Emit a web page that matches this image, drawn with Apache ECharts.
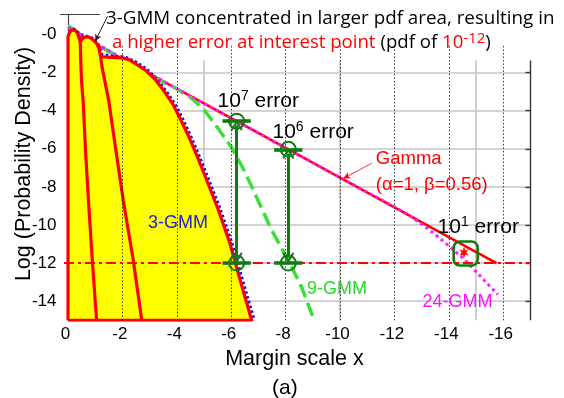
<!DOCTYPE html>
<html>
<head>
<meta charset="utf-8">
<script src="https://cdn.jsdelivr.net/npm/echarts@6/dist/echarts.min.js"></script>
<style>
  html, body { margin: 0; padding: 0; background: #ffffff; }
  #chart { width: 564px; height: 398px; }
</style>
</head>
<body>
<div id="chart"></div>
<script>
// ---- tick labels ----
const xTickValues = [0, -2, -4, -6, -8, -10, -12, -14, -16];
const yTickValues = [0, -2, -4, -6, -8, -10, -12, -14];
const coarseGridX = [-5, -10, -15];
const interestLevel = -12;

// ---- curves: [margin x, log10 pdf] ----
const gammaFit = [[0, 0.25], [-6.2, -4.55], [-8.1, -6.03], [-15.75, -12.0]];

const gmm24 = [[0, 0.35], [-3, -2.05], [-6, -4.4], [-9, -6.73], [-12, -9.05], [-12.5, -9.45],
  [-13, -9.95], [-13.5, -10.5], [-14, -11.1], [-14.6, -11.85], [-15.2, -12.75], [-15.8, -13.65]];

const gmm9 = [[0, 0.45], [-1, -0.45], [-2, -1.3], [-3, -2.1], [-3.5, -2.5], [-4, -2.85], [-4.5, -3.3],
  [-5, -3.95], [-5.5, -4.9], [-6, -5.9], [-6.5, -7.2], [-7, -8.75], [-7.5, -10.3], [-8.15, -12.0],
  [-8.6, -13.3], [-9.05, -15]];

const gmm3Model = [[0, 0.3], [-0.2, 0.3], [-0.4, 0.05], [-0.6, -0.05], [-0.9, -0.2], [-1.1, -0.5],
  [-1.25, -1.05], [-1.6, -1.12], [-2.1, -1.18], [-2.5, -1.45], [-2.9, -1.82], [-3.25, -2.32],
  [-3.62, -3.0], [-3.93, -3.65], [-4.2, -4.38], [-4.5, -5.3], [-4.83, -6.4], [-5.18, -7.65],
  [-5.58, -9.1], [-6.04, -11.0], [-6.52, -13.4], [-6.85, -15]];

const gmm3Envelope = [[0, -15], [0, -0.1], [-0.06, 0.12], [-0.14, 0.22], [-0.22, 0.24], [-0.3, 0.16],
  [-0.37, 0.0], [-0.42, -0.25], [-0.45, -0.38], [-0.52, -0.22], [-0.6, -0.14], [-0.69, -0.12],
  [-0.8, -0.16], [-0.93, -0.29], [-1.05, -0.46], [-1.13, -0.7], [-1.19, -1.1], [-1.3, -1.18],
  [-1.6, -1.2], [-2.0, -1.23], [-2.25, -1.33], [-2.46, -1.51], [-2.83, -1.86], [-3.2, -2.35],
  [-3.57, -3.05], [-3.87, -3.7], [-4.12, -4.4], [-4.42, -5.3], [-4.75, -6.4], [-5.1, -7.65],
  [-5.5, -9.1], [-5.96, -11.0], [-6.43, -13.4], [-6.75, -15], [0, -15]];

const gmm3Lobe1 = [[-0.45, -0.38], [-0.47, -1.5], [-0.5, -2.5], [-0.56, -3.6], [-0.64, -6],
  [-0.75, -8.7], [-0.88, -11.6], [-1.05, -15]];
const gmm3Lobe2 = [[-1.19, -1.1], [-1.25, -1.7], [-1.36, -2.5], [-1.5, -3.5], [-1.7, -5.5],
  [-2.03, -8.7], [-2.4, -11.85], [-2.71, -15]];

// ---- error comparison points ----
const errorX = [-6.2, -8.1];
const errorTop = [-4.55, -6.03];
const errorBottom = [-12, -12];
const focusPoint = [-14.62, -11.5];
const focusMark = [-14.56, -11.45];

// ---- styling ----
const SANS = '"Liberation Sans", Arial, sans-serif';
const TITLE_FONT = '"Open Sans", Lato, sans-serif';
const DARK_GREEN = '#127a12';
const BRIGHT_GREEN = '#38e038';
const MAGENTA = '#ff1aff';
const RED = '#ff0000';

const seg = (a, b) => [{ coord: a }, { coord: b }];

const hGrid = yTickValues.filter(v => v < 0).map(v => seg([0, v], [-17, v]));
const vCoarse = coarseGridX.map(x => seg([x, -1.37], [x, -15]));
const rightAxis = [seg([-17, -1.37], [-17, -15])].concat(
  yTickValues.filter(v => v < 0).map(v => seg([-16.82, v], [-17, v])));
const vDotted = xTickValues.filter(v => v < 0).map(x => seg([x, -0.6], [x, -15]));

const chevron = 'path://M0,10 L6,0 L12,10 L10.4,11.2 L6,4 L1.6,11.2 Z';

const errorBars = [];
const errorArrows = [];
const errorCircles = [];
errorX.forEach((x, i) => {
  errorBars.push(seg([x + 0.52, errorTop[i]], [x - 0.52, errorTop[i]]));
  errorBars.push(seg([x + 0.52, errorBottom[i]], [x - 0.52, errorBottom[i]]));
  errorArrows.push(seg([x, errorTop[i] - 0.22], [x, errorBottom[i] + 0.28]));
  errorCircles.push([x, errorTop[i]], [x, errorBottom[i]]);
});

// rich text for "10^n error" captions
const errRich = {
  b: { fontSize: 21, fontFamily: SANS, color: '#000', lineHeight: 24 },
  s: { fontSize: 14, fontFamily: SANS, color: '#000', verticalAlign: 'top', lineHeight: 14 }
};
const notes = [
  { at: [-4.04, -9.9], text: '3-GMM', color: '#2222cc', pos: 'inside', size: 18 },
  { at: [-9.89, -13.36], text: '9-GMM', color: '#22dd22', pos: 'inside', size: 18 },
  { at: [-14.32, -14.04], text: '24-GMM', color: '#ff11ff', pos: 'inside', size: 18 },
  { at: [-11.3, -6.55], text: 'Gamma', color: RED, pos: 'right', size: 18.5 },
  { at: [-11.3, -7.9], text: '(α=1, β=0.56)', color: RED, pos: 'right', size: 18.5 },
  { at: [-5.48, -3.5], rich: '{b|10}{s|7}{b| error}', pos: 'right' },
  { at: [-7.5, -5.13], rich: '{b|10}{s|6}{b| error}', pos: 'right' },
  { at: [-13.57, -10.12], rich: '{b|10}{s|1}{b| error}', pos: 'right' }
];

const markLineBase = (z, lineStyle, data, extra) => Object.assign({
  silent: true, z: z, symbol: 'none', label: { show: false }, lineStyle: lineStyle, data: data,
  emphasis: { disabled: true }, animation: false
}, extra || {});

const hostPoint = [[-17, -15]];
const hostSeries = (z, markLine) => ({
  type: 'line', z: z, data: hostPoint, showSymbol: false, symbol: 'none',
  lineStyle: { width: 0 }, silent: true, markLine: markLine
});

const option = {
  animation: false,
  backgroundColor: '#ffffff',
  title: [
    {
      left: 101, top: 4,
      text: '3-GMM concentrated in larger pdf area, resulting in',
      textStyle: { fontFamily: TITLE_FONT, fontSize: 18.8, fontWeight: 'normal', color: '#000' }
    },
    {
      left: 107, top: 26,
      text: '{r|a higher error at interest point} {k|(pdf of }{r|10}{rs|-12}{k|)}',
      textStyle: {
        fontWeight: 'normal',
        rich: {
          r: { fontFamily: TITLE_FONT, fontSize: 18.6, fontWeight: 'normal', color: RED, lineHeight: 24 },
          k: { fontFamily: TITLE_FONT, fontSize: 18.6, fontWeight: 'normal', color: '#000', lineHeight: 24 },
          rs: { fontFamily: TITLE_FONT, fontSize: 15, fontWeight: 'normal', color: RED, verticalAlign: 'top', lineHeight: 14 }
        }
      }
    },
    {
      left: 267, top: 373, text: '(a)',
      textStyle: { fontFamily: SANS, fontSize: 21, fontWeight: 'normal', color: '#000' }
    }
  ],
  // vertical axis title
  graphic: [{
    type: 'text', x: 24, y: 164, rotation: Math.PI / 2, silent: true,
    style: {
      text: 'Log (Probability Density)', fill: '#000',
      font: '21.5px "Liberation Sans", Arial, sans-serif',
      align: 'center', verticalAlign: 'middle'
    }
  }],
  grid: { left: 58.5, right: 33.6, top: 5.9, bottom: 77.75, containLabel: false, outerBoundsMode: 'none' },
  xAxis: {
    type: 'value', min: -17, max: 0.35, interval: 1, inverse: true,
    axisLine: { show: false }, axisTick: { show: false }, splitLine: { show: false },
    axisLabel: {
      formatter: v => (xTickValues.indexOf(v) >= 0 ? String(v) : ''),
      fontFamily: SANS, fontSize: 17, color: '#000', margin: 6, padding: [0, 5, 0, 0]
    },
    name: 'Margin scale x', nameLocation: 'middle', nameGap: 27,
    nameTextStyle: { fontFamily: SANS, fontSize: 21.5, color: '#000' }
  },
  yAxis: {
    type: 'value', min: -15, max: 1.5, interval: 1,
    axisLine: { show: false }, axisTick: { show: false }, splitLine: { show: false },
    axisLabel: {
      formatter: v => (yTickValues.indexOf(v) >= 0 ? (v === 0 ? '-0' : String(v)) : ''),
      fontFamily: SANS, fontSize: 17, color: '#000', margin: 2
    }
  },
  series: [
    // background grid
    hostSeries(1, markLineBase(1, { color: '#c4c4c4', width: 1.6, type: 'solid' }, hGrid.concat(vCoarse))),
    hostSeries(1, markLineBase(1, { color: '#333333', width: 1.4, type: 'solid' }, rightAxis)),
    // fitted / model curves
    {
      name: 'Gamma', type: 'line', z: 2, data: gammaFit, showSymbol: false, symbol: 'none',
      lineStyle: { color: RED, width: 2.6 }
    },
    {
      name: '9-GMM', type: 'line', z: 2, data: gmm9, showSymbol: false, symbol: 'none',
      lineStyle: { color: BRIGHT_GREEN, width: 3.5, type: [14, 6] }
    },
    {
      name: '3-GMM model', type: 'line', z: 2, data: gmm3Model, showSymbol: false, symbol: 'none',
      lineStyle: { color: '#1010ff', width: 3, type: [2.5, 2.5] }
    },
    {
      name: '24-GMM', type: 'line', z: 3, data: gmm24, showSymbol: false, symbol: 'none',
      lineStyle: { color: MAGENTA, width: 3, type: [3, 3.5] }
    },
    // 3-GMM components, filled
    {
      name: '3-GMM', type: 'line', z: 4, data: gmm3Envelope, showSymbol: false, symbol: 'none',
      lineStyle: { color: RED, width: 3.2, join: 'round' },
      areaStyle: { color: '#ffff00', opacity: 1, origin: 'start' }
    },
    {
      type: 'line', z: 5, data: gmm3Lobe1, showSymbol: false, symbol: 'none',
      lineStyle: { color: RED, width: 3.2 }
    },
    {
      type: 'line', z: 5, data: gmm3Lobe2, showSymbol: false, symbol: 'none',
      lineStyle: { color: RED, width: 3.2 }
    },
    // dotted vertical grid and the interest level
    hostSeries(6, markLineBase(6, { color: '#222222', width: 0.9, type: [1.5, 2] }, vDotted)),
    hostSeries(6, markLineBase(6, { color: RED, width: 2, type: [10, 4, 3, 4] },
      [seg([0.15, interestLevel], [-17, interestLevel])])),
    // error comparison markers
    hostSeries(7, markLineBase(7, { color: DARK_GREEN, width: 3.6, type: 'solid' }, errorBars)),
    hostSeries(7, markLineBase(7, { color: DARK_GREEN, width: 3, type: 'solid' }, errorArrows,
      { symbol: [chevron, chevron], symbolSize: [12, 11] })),
    {
      type: 'scatter', z: 7, data: errorCircles, symbol: 'circle', symbolSize: 15, silent: true,
      itemStyle: { color: 'rgba(0,0,0,0)', borderColor: DARK_GREEN, borderWidth: 2, opacity: 1 }
    },
    {
      type: 'scatter', z: 7, data: [focusPoint], symbol: 'roundRect', symbolSize: 24, silent: true,
      itemStyle: { color: 'rgba(0,0,0,0)', borderColor: DARK_GREEN, borderWidth: 2.6, opacity: 1 }
    },
    {
      type: 'scatter', z: 8, data: [focusMark], silent: true,
      symbol: 'path://M5,0 L6.3,3.2 L10,2.5 L7.6,5 L10,7.5 L6.3,6.8 L5,10 L3.7,6.8 L0,7.5 L2.4,5 L0,2.5 L3.7,3.2 Z',
      symbolSize: [9, 12], itemStyle: { color: RED, opacity: 1 }
    },
    // pointer arrows for annotations
    hostSeries(9, markLineBase(9, { color: RED, width: 0.8, type: 'solid' },
      [seg([-11.18, -6.75], [-10.12, -7.56])], { symbol: ['none', 'arrow'], symbolSize: [5, 7] })),
    hostSeries(9, markLineBase(9, { color: '#222222', width: 1, type: 'solid' },
      [seg([-1.45, 0.95], [-1.0, -0.36])], { symbol: ['none', 'arrow'], symbolSize: [5, 7] })),
    hostSeries(9, markLineBase(9, { color: '#444444', width: 1.2, type: 'solid' },
      [seg([0.29, 1.08], [-1.18, 1.08]), seg([0, 1.08], [0, 0.5])])),
    // captions
    {
      type: 'scatter', z: 10, silent: true, symbolSize: 1,
      itemStyle: { color: 'rgba(0,0,0,0)', borderWidth: 0, opacity: 1 },
      data: notes.map(n => ({
        value: n.at,
        label: n.rich ? {
          show: true, position: n.pos, distance: 0, formatter: n.rich, rich: errRich
        } : {
          show: true, position: n.pos, distance: 0, formatter: n.text,
          fontFamily: SANS, fontSize: n.size, color: n.color
        }
      }))
    }
  ]
};

const chart = echarts.init(document.getElementById('chart'), null, { renderer: 'canvas' });
chart.setOption(option);
</script>
</body>
</html>
